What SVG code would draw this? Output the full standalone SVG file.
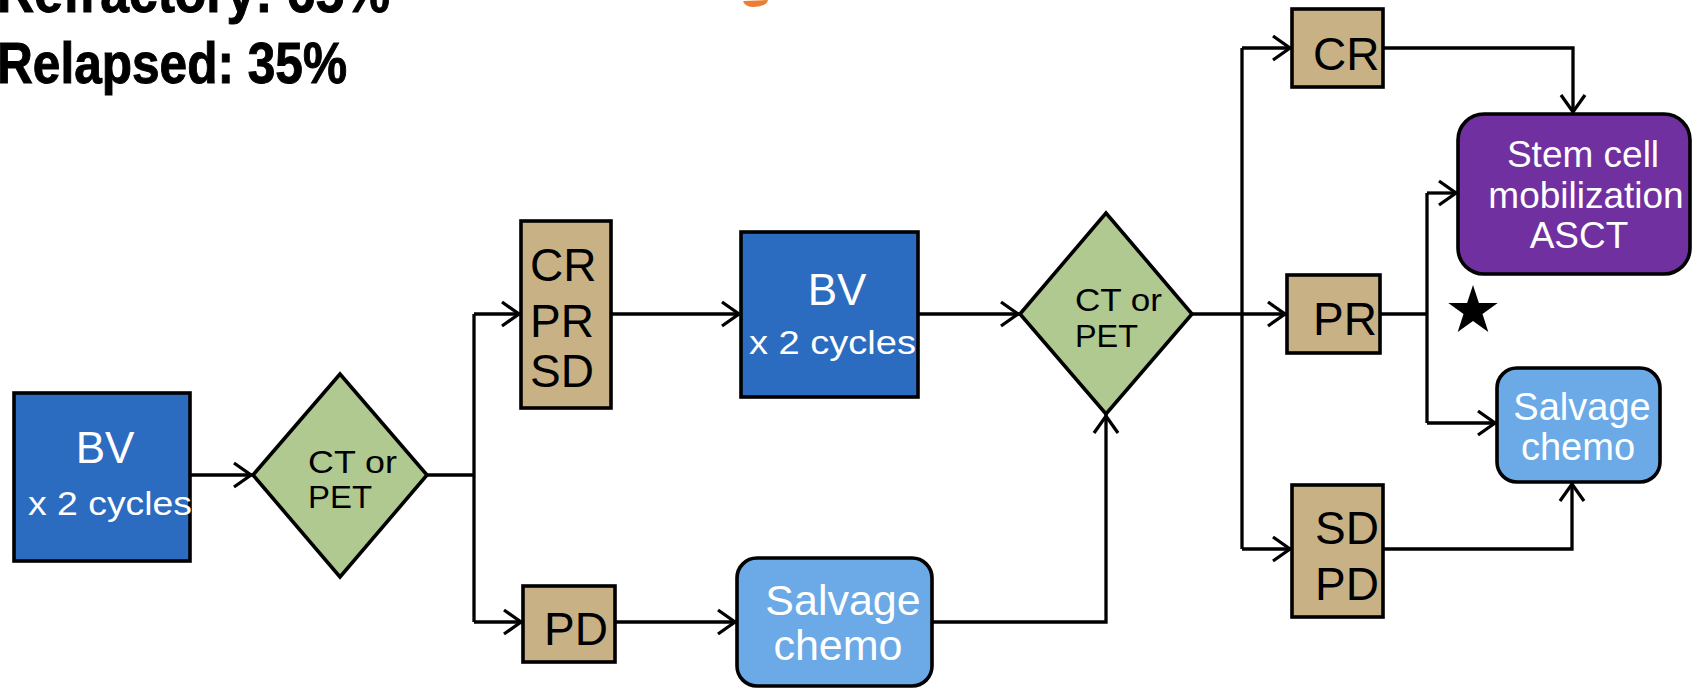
<svg xmlns="http://www.w3.org/2000/svg" width="1694" height="688" viewBox="0 0 1694 688">
<style>
text{font-family:"Liberation Sans",Arial,sans-serif}
.ln{fill:none;stroke:#000;stroke-width:3.3}
.bx{stroke:#000;stroke-width:3.6}
.blue{fill:#2B6BC0}
.tan{fill:#C8B285}
.grn{fill:#B0C991}
.lb{fill:#6BAAE6}
.pur{fill:#7030A0}
.w{fill:#fff}
.k{fill:#000}
.head{font-weight:bold;font-size:58px;fill:#000;stroke:#000;stroke-width:1}
</style>
<defs>
<marker id="ah" markerUnits="userSpaceOnUse" markerWidth="26" markerHeight="30" viewBox="-21 -15 26 30" refX="2" refY="0" orient="auto">
<path d="M-17,-12 L0,0 L-17,12" fill="none" stroke="#000" stroke-width="3.3"/>
</marker>
</defs>
<rect width="1694" height="688" fill="#fff"/>

<g id="header">
<text class="head" x="-3" y="12" textLength="393" lengthAdjust="spacingAndGlyphs">Refractory: 65%</text>
<text class="head" x="-3" y="83" textLength="350" lengthAdjust="spacingAndGlyphs">Relapsed: 35%</text>
<path d="M743 1 L768 0 Q767 6 754 7 Q745 7 743 1 Z" fill="#ED7D31"/>
</g>

<g id="connectors">
<path class="ln" d="M190 475 H253" marker-end="url(#ah)"/>
<path class="ln" d="M427 475 H474"/>
<path class="ln" d="M474 314 V622"/>
<path class="ln" d="M474 314 H521" marker-end="url(#ah)"/>
<path class="ln" d="M474 622 H523" marker-end="url(#ah)"/>
<path class="ln" d="M611 314 H741" marker-end="url(#ah)"/>
<path class="ln" d="M918 314 H1020" marker-end="url(#ah)"/>
<path class="ln" d="M615 622 H737" marker-end="url(#ah)"/>
<path class="ln" d="M932 622 H1106 V414" marker-end="url(#ah)"/>
<path class="ln" d="M1192 314 H1287" marker-end="url(#ah)"/>
<path class="ln" d="M1242 48 V549"/>
<path class="ln" d="M1242 48 H1292" marker-end="url(#ah)"/>
<path class="ln" d="M1242 549 H1292" marker-end="url(#ah)"/>
<path class="ln" d="M1383 48 H1573 V114" marker-end="url(#ah)"/>
<path class="ln" d="M1380 314 H1427"/>
<path class="ln" d="M1427 193 V423"/>
<path class="ln" d="M1427 193 H1458" marker-end="url(#ah)"/>
<path class="ln" d="M1427 423 H1497" marker-end="url(#ah)"/>
<path class="ln" d="M1383 549 H1572 V482" marker-end="url(#ah)"/>
</g>

<g id="bv1">
<rect class="bx blue" x="14" y="393" width="176" height="168"/>
<text class="w" x="105" y="463" font-size="44" text-anchor="middle">BV</text>
<text class="w" x="28" y="515" font-size="34" textLength="164" lengthAdjust="spacingAndGlyphs">x 2 cycles</text>
</g>

<g id="ct1">
<polygon class="bx grn" points="253,475 340,374 427,475 340,577"/>
<text class="k" x="308" y="473" font-size="32" textLength="89" lengthAdjust="spacingAndGlyphs">CT or</text>
<text class="k" x="308" y="508" font-size="32" textLength="64" lengthAdjust="spacingAndGlyphs">PET</text>
</g>

<g id="crprsd">
<rect class="bx tan" x="521" y="221" width="90" height="187"/>
<text class="k" x="530" y="281" font-size="46">CR</text>
<text class="k" x="530" y="337" font-size="46">PR</text>
<text class="k" x="530" y="387" font-size="46">SD</text>
</g>

<g id="pd1">
<rect class="bx tan" x="523" y="586" width="92" height="76"/>
<text class="k" x="544" y="645" font-size="46">PD</text>
</g>

<g id="bv2">
<rect class="bx blue" x="741" y="232" width="177" height="165"/>
<text class="w" x="837" y="305" font-size="44" text-anchor="middle">BV</text>
<text class="w" x="749" y="354" font-size="34" textLength="167" lengthAdjust="spacingAndGlyphs">x 2 cycles</text>
</g>

<g id="salvage1">
<rect class="bx lb" x="737" y="558" width="195" height="128" rx="20" ry="20"/>
<text class="w" x="843" y="615" font-size="43" text-anchor="middle">Salvage</text>
<text class="w" x="838" y="660" font-size="43" text-anchor="middle">chemo</text>
</g>

<g id="ct2">
<polygon class="bx grn" points="1020,314 1106,213 1192,314 1106,414"/>
<text class="k" x="1075" y="311" font-size="32" textLength="87" lengthAdjust="spacingAndGlyphs">CT or</text>
<text class="k" x="1075" y="347" font-size="32" textLength="63" lengthAdjust="spacingAndGlyphs">PET</text>
</g>

<g id="cr">
<rect class="bx tan" x="1292" y="9" width="91" height="78"/>
<text class="k" x="1313" y="70" font-size="46">CR</text>
</g>

<g id="pr">
<rect class="bx tan" x="1287" y="275" width="93" height="78"/>
<text class="k" x="1313" y="335" font-size="46">PR</text>
</g>

<g id="sdpd">
<rect class="bx tan" x="1292" y="485" width="91" height="132"/>
<text class="k" x="1315" y="544" font-size="46">SD</text>
<text class="k" x="1315" y="600" font-size="46">PD</text>
</g>

<g id="asct">
<rect class="bx pur" x="1458" y="114" width="232" height="160" rx="26" ry="26"/>
<text class="w" x="1583" y="167" font-size="37" text-anchor="middle">Stem cell</text>
<text class="w" x="1586" y="208" font-size="37" text-anchor="middle">mobilization</text>
<text class="w" x="1579" y="248" font-size="37" text-anchor="middle">ASCT</text>
</g>

<g id="salvage2">
<rect class="bx lb" x="1497" y="368" width="163" height="114" rx="20" ry="20"/>
<text class="w" x="1582" y="420" font-size="38" text-anchor="middle">Salvage</text>
<text class="w" x="1578" y="460" font-size="38" text-anchor="middle">chemo</text>
</g>

<g id="star">
<polygon fill="#000" points="1473,285 1478.9,302.9 1497.7,303 1482.5,314.1 1488.3,332 1473,321 1457.7,332 1463.5,314.1 1448.3,303 1467.1,302.9"/>
</g>
</svg>
